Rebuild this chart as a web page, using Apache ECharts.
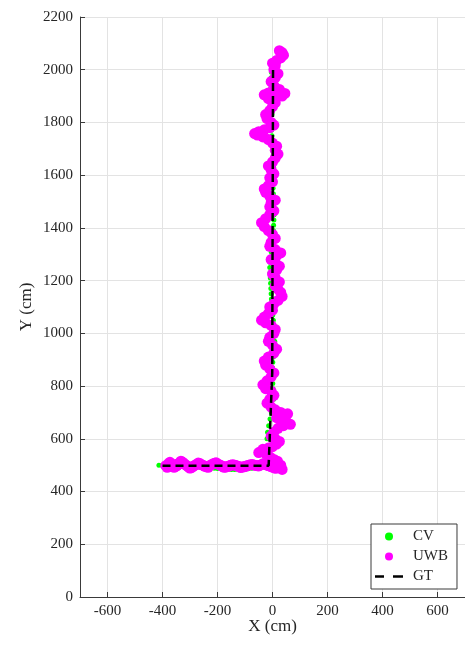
<!DOCTYPE html>
<html>
<head>
<meta charset="utf-8">
<script src="https://cdn.jsdelivr.net/npm/echarts@6/dist/echarts.min.js"></script>
<style>
  html, body { margin: 0; padding: 0; background: #fff; }
  #chart { width: 465px; height: 645px; }
</style>
</head>
<body>
<div id="chart"></div>
<script>
// Trajectory estimates in centimetres, [x, y]
const seriesNames = ['CV', 'UWB', 'GT'];

const xTicks = [-600, -400, -200, 0, 200, 400, 600];
const yTicks = [0, 200, 400, 600, 800, 1000, 1200, 1400, 1600, 1800, 2000, 2200];

// Camera-based (CV) track
const cvPoints = [
  [-413, 500], [-400, 500], [-388, 499], [-375, 498], [-362, 497], [-350, 497],
  [-338, 496], [-325, 496], [-312, 495], [-300, 495], [-288, 494], [-275, 493],
  [-262, 492], [-250, 491], [-238, 490], [-225, 489], [-212, 488], [-200, 487],
  [-188, 486], [-175, 485], [-162, 485], [-150, 484], [-138, 484], [-125, 484],
  [-112, 485], [-100, 485], [-88, 486], [-75, 488], [-62, 490], [-50, 492],
  [-38, 495], [-26, 498], [-16, 502],
  [-15, 515], [-18, 540], [-20, 570], [-20, 600], [-18, 625], [-14, 650],
  [-9, 675], [-4, 700], [1, 725], [4, 750], [3, 770], [2, 790], [1, 810],
  [0, 830], [-1, 850], [0, 870], [1, 890], [3, 910], [5, 930], [7, 950],
  [8, 970], [8, 990], [7, 1010], [5, 1030], [3, 1050], [1, 1070], [-1, 1090],
  [-3, 1110], [-4, 1130], [-5, 1150], [-6, 1170], [-7, 1190], [-8, 1210],
  [-9, 1230], [-10, 1250], [-9, 1270], [-7, 1290], [-5, 1310], [-3, 1330],
  [-1, 1350], [1, 1370], [3, 1390], [4, 1410], [5, 1430], [6, 1450],
  [6, 1470], [5, 1490], [4, 1510], [3, 1530], [2, 1550], [1, 1570],
  [2, 1590], [3, 1610], [4, 1630], [5, 1650], [5, 1670], [4, 1690],
  [2, 1710], [0, 1730], [-2, 1750], [-4, 1770], [-5, 1790], [-4, 1810],
  [-2, 1830], [0, 1850], [-2, 1870], [-4, 1890], [-5, 1910], [-6, 1930],
  [-6, 1950], [-5, 1970], [-4, 1990], [-3, 2010], [-2, 2025]
];

// Ultra-wideband (UWB) fixes
const uwbPoints = [
  [-388, 498], [-383, 492], [-378, 506], [-373, 511], [-368, 500], [-363, 495],
  [-358, 492], [-353, 503], [-348, 497], [-343, 502], [-338, 508], [-333, 515],
  [-328, 512], [-323, 507], [-318, 503], [-312, 498], [-306, 494], [-301, 489],
  [-296, 490], [-291, 494], [-286, 497], [-280, 501], [-275, 503], [-270, 508],
  [-264, 506], [-258, 502], [-252, 499], [-246, 496], [-240, 494], [-234, 492],
  [-228, 498], [-222, 502], [-216, 505], [-210, 507], [-205, 509], [-200, 505],
  [-194, 502], [-188, 499], [-182, 496], [-176, 492], [-170, 493], [-164, 495],
  [-158, 497], [-152, 500], [-146, 502], [-140, 501], [-134, 499], [-128, 497],
  [-122, 495], [-116, 491], [-110, 493], [-104, 494], [-98, 496], [-92, 498],
  [-86, 500], [-80, 502], [-74, 503], [-68, 501], [-62, 499], [-56, 498],
  [-50, 497], [-45, 500], [-40, 502], [-35, 505], [-30, 506], [-25, 503],
  [-20, 500], [-15, 498], [-10, 497], [-5, 495], [0, 493], [6, 490],
  [12, 488], [18, 492], [24, 495], [30, 490], [35, 484],
  [30, 500], [18, 515], [5, 522], [-8, 530], [-25, 545], [-40, 552],
  [-50, 548], [-35, 560], [-15, 565], [0, 570], [15, 580], [25, 590],
  [10, 600], [-5, 610], [5, 625], [20, 640], [40, 650], [65, 655],
  [50, 665], [30, 672], [15, 680], [40, 690], [55, 695], [30, 700],
  [10, 710], [-5, 720], [-20, 735], [-10, 750], [5, 765], [-5, 780],
  [-25, 790], [-35, 805], [-20, 820], [-5, 835], [5, 850], [-10, 865],
  [-25, 880], [-30, 895], [-15, 910], [5, 925], [15, 940], [0, 955],
  [-15, 970], [-10, 985], [5, 1000], [10, 1015], [-5, 1030], [-25, 1040],
  [-40, 1050], [-30, 1062], [-15, 1075], [0, 1088], [-10, 1100], [5, 1112],
  [20, 1125], [35, 1140], [30, 1155], [20, 1168], [10, 1180], [25, 1195],
  [10, 1210], [0, 1225], [15, 1240], [25, 1255], [10, 1268], [-5, 1280],
  [15, 1295], [30, 1305], [10, 1318], [-10, 1330], [-5, 1345], [10, 1360],
  [0, 1375], [-15, 1390], [-30, 1405], [-40, 1420], [-25, 1435], [-10, 1450],
  [5, 1465], [-10, 1480], [-5, 1495], [10, 1505], [-10, 1520], [-25, 1535],
  [-30, 1548], [-15, 1560], [0, 1575], [-10, 1590], [5, 1605], [-5, 1620],
  [-15, 1635], [0, 1650], [10, 1665], [20, 1680], [10, 1695], [15, 1710],
  [0, 1722], [-15, 1735], [-35, 1745], [-55, 1752], [-65, 1758], [-50, 1765],
  [-30, 1772], [-10, 1780], [5, 1790], [-5, 1800], [-20, 1815], [-25, 1830],
  [-10, 1845], [0, 1860], [10, 1875], [-15, 1890], [-30, 1905], [-15, 1912],
  [15, 1905], [35, 1900], [45, 1910], [25, 1925], [5, 1940], [-5, 1955],
  [10, 1970], [20, 1985], [5, 2000], [10, 2015], [0, 2025], [15, 2035],
  [30, 2045], [40, 2055], [35, 2065], [25, 2072]
];

// Ground-truth path
const gtPoints = [[-400, 498], [-14, 498], [-1, 850], [2, 2010]];

const FONT = "'Liberation Serif', 'DejaVu Serif', serif";
const TEXT = '#262626';
const AXIS = '#3a3a3a';
const GRID = '#e3e3e3';

// Two-dash glyph used as the GT legend key
const DASH_ICON = 'path://M0,0H9V2.5H0Z M18,0H28V2.5H18Z';

const chart = echarts.init(document.getElementById('chart'), null, { renderer: 'canvas' });

chart.setOption({
  animation: false,
  backgroundColor: '#ffffff',
  grid: { left: 80, top: 17, width: 388, height: 580, containLabel: false },
  xAxis: {
    type: 'value',
    min: -700, max: 700,
    name: 'X (cm)',
    nameLocation: 'middle',
    nameGap: 21,
    nameMoveOverlap: false,
    nameTextStyle: { fontFamily: FONT, fontSize: 17, color: TEXT },
    axisLine: { show: true, onZero: false, lineStyle: { color: AXIS, width: 1 } },
    axisTick: { show: true, inside: true, length: 5, customValues: xTicks, lineStyle: { color: AXIS } },
    axisLabel: { customValues: xTicks, fontFamily: FONT, fontSize: 15, color: TEXT, margin: 7,
                 formatter: v => String(v) },
    splitLine: { show: true, lineStyle: { color: GRID, width: 1 } }
  },
  yAxis: {
    type: 'value',
    min: yTicks[0], max: yTicks[yTicks.length - 1], interval: 200,
    name: 'Y (cm)',
    nameLocation: 'middle',
    nameGap: 45,
    nameMoveOverlap: false,
    nameTextStyle: { fontFamily: FONT, fontSize: 17, color: TEXT },
    axisLine: { show: true, onZero: false, lineStyle: { color: AXIS, width: 1 } },
    axisTick: { show: true, inside: true, length: 5, lineStyle: { color: AXIS } },
    axisLabel: { fontFamily: FONT, fontSize: 15, color: TEXT, margin: 7,
                 formatter: v => String(v) },
    splitLine: { show: true, lineStyle: { color: GRID, width: 1 } }
  },
  legend: {
    orient: 'vertical',
    left: 371, top: 524,
    padding: [5, 9, 5, 4],
    itemGap: 5,
    itemWidth: 28,
    itemHeight: 8,
    backgroundColor: '#ffffff',
    borderColor: AXIS,
    borderWidth: 1,
    borderRadius: 0,
    textStyle: { fontFamily: FONT, fontSize: 15, color: TEXT, lineHeight: 15, padding: [0, 0, 0, 5] },
    data: [
      { name: seriesNames[0], icon: 'circle' },
      { name: seriesNames[1], icon: 'circle' },
      { name: seriesNames[2], icon: DASH_ICON }
    ]
  },
  series: [
    {
      name: seriesNames[0],
      type: 'scatter',
      data: cvPoints,
      symbol: 'circle',
      symbolSize: 5,
      itemStyle: { color: '#00ff00', opacity: 1 },
      emphasis: { disabled: true },
      z: 2
    },
    {
      name: seriesNames[1],
      type: 'scatter',
      data: uwbPoints,
      symbol: 'circle',
      symbolSize: 11,
      itemStyle: { color: '#ff00ff', opacity: 1 },
      emphasis: { disabled: true },
      z: 3
    },
    {
      name: seriesNames[2],
      type: 'line',
      data: gtPoints,
      symbol: 'none',
      lineStyle: { color: '#000000', width: 2.5, type: [8, 5] },
      itemStyle: { color: '#000000' },
      emphasis: { disabled: true },
      z: 4
    }
  ]
});
</script>
</body>
</html>
